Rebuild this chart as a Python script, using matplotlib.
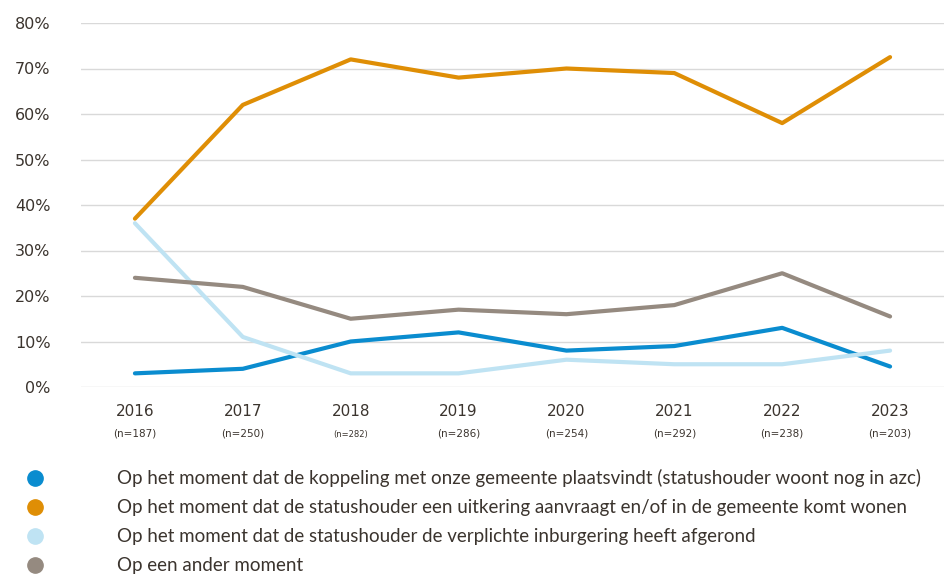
import matplotlib
matplotlib.use("Agg")
import matplotlib.pyplot as plt
from matplotlib.lines import Line2D
from matplotlib.transforms import blended_transform_factory

# --- data ---
years = ["2016", "2017", "2018", "2019", "2020", "2021", "2022", "2023"]
n_resp = [187, 250, 282, 286, 254, 292, 238, 203]
koppeling = [3, 4, 10, 12, 8, 9, 13, 4.5]
uitkering = [37, 62, 72, 68, 70, 69, 58, 72.5]
inburgering = [36, 11, 3, 3, 6, 5, 5, 8]
ander = [24, 22, 15, 17, 16, 18, 25, 15.5]
labels = [
    "Op het moment dat de koppeling met onze gemeente plaatsvindt (statushouder woont nog in azc)",
    "Op het moment dat de statushouder een uitkering aanvraagt en/of in de gemeente komt wonen",
    "Op het moment dat de statushouder de verplichte inburgering heeft afgerond",
    "Op een ander moment",
]
colors = ["#0a8ccf", "#df8e05", "#bfe3f3", "#958a80"]

txt = "#3b342e"
plt.rcParams['font.family'] = ['DejaVu Sans']

fig = plt.figure(figsize=(9.44, 5.76), dpi=100)
ax = fig.add_axes([81 / 944, (576 - 387) / 576, 1 - 81 / 944, (387 - 23) / 576])

x = range(len(years))
for series, c in zip([koppeling, uitkering, inburgering, ander], colors):
    ax.plot(x, series, color=c, lw=3, solid_capstyle='round', zorder=3)

ax.set_xlim(-0.5, len(years) - 0.5)
ax.set_ylim(0, 80)
ax.set_yticks(range(0, 81, 10))
ax.set_yticklabels([f"{v}%" for v in range(0, 81, 10)], fontsize=11.5, color=txt)
ax.yaxis.grid(True, color="#d9d9d9", lw=1)
ax.set_axisbelow(True)
ax.tick_params(axis='y', length=0, pad=22)
ax.set_xticks(list(x))
ax.set_xticklabels([])
ax.tick_params(axis='x', length=0)
for s in ax.spines.values():
    s.set_visible(False)

tr = blended_transform_factory(ax.transData, fig.transFigure)
for i, (yr, n) in enumerate(zip(years, n_resp)):
    ax.text(i, 1 - 411 / 576, yr, transform=tr, ha='center', va='center',
            fontsize=11, color=txt)
    ax.text(i, 1 - 434 / 576, f"(n={n})", transform=tr, ha='center', va='center',
            fontsize=6 if yr == "2018" else 7.5, color=txt)

handles = [Line2D([], [], ls='none', marker='o', markersize=11, color=c) for c in colors]
fig.legend(handles, labels, loc='upper left', bbox_to_anchor=(26 / 944, 1 - 469 / 576),
           frameon=False, prop={'family': 'Lato', 'size': 13.5}, labelcolor=txt,
           handlelength=1, handletextpad=3.85, labelspacing=0.64,
           borderaxespad=0, borderpad=0)

fig.savefig("out.png", dpi=100)
